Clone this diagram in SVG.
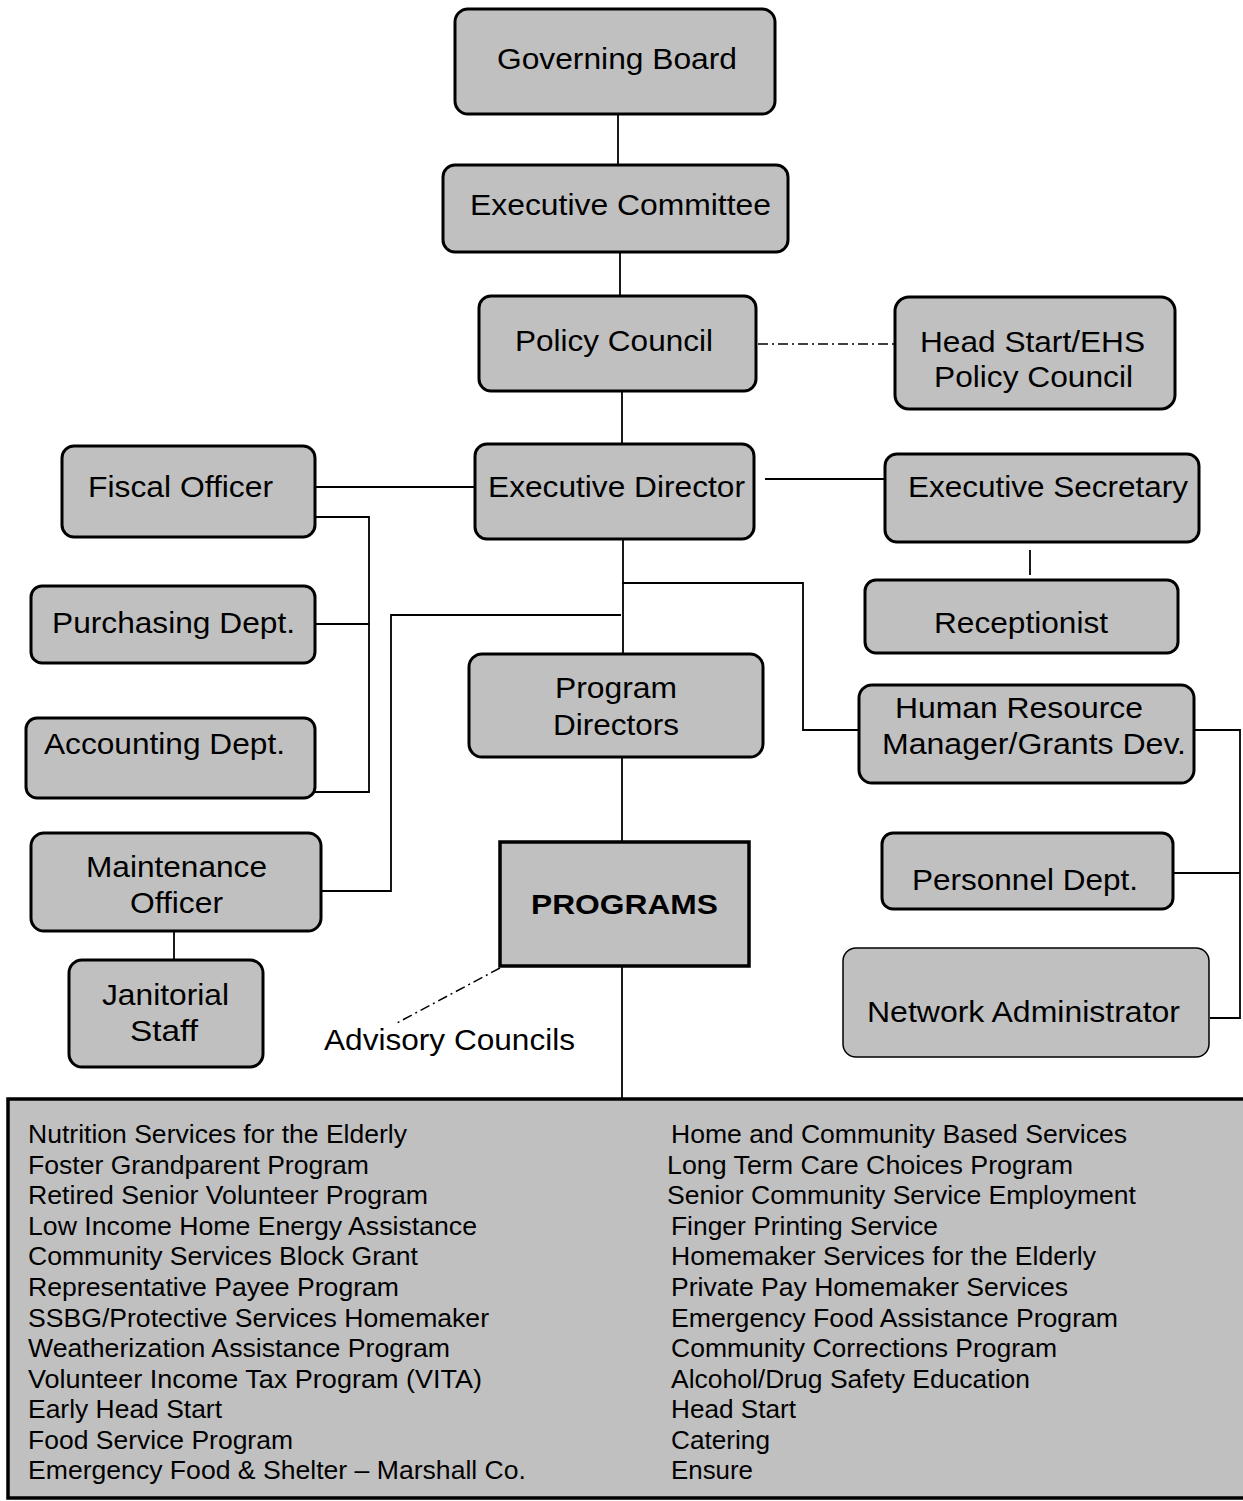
<svg xmlns="http://www.w3.org/2000/svg" width="1243" height="1501" viewBox="0 0 1243 1501">
<style>
.box{fill:#c0c0c0;stroke:#000;stroke-width:3}
.thin{fill:#c0c0c0;stroke:#000;stroke-width:1.5}
.sq{fill:#c0c0c0;stroke:#000;stroke-width:3.5}
.t{font-family:"Liberation Sans",Arial,sans-serif;font-size:30px;fill:#000}
.b{font-weight:bold;font-size:28px}
.l{font-family:"Liberation Sans",Arial,sans-serif;font-size:26px;fill:#000}
.c{fill:none;stroke:#000;stroke-width:1.8}
.dd{fill:none;stroke:#000;stroke-width:1.5;stroke-dasharray:10 4 2 4}
</style>
<rect width="1243" height="1501" fill="#fff"/>
<g id="connectors">
<line class="c" x1="618" y1="114" x2="618" y2="165"/>
<line class="c" x1="620" y1="252" x2="620" y2="296"/>
<line class="c" x1="622" y1="391" x2="622" y2="444"/>
<line class="dd" x1="758" y1="344" x2="894" y2="344"/>
<line class="c" x1="312" y1="487" x2="475" y2="487"/>
<line class="c" x1="765" y1="479" x2="885" y2="479"/>
<polyline class="c" points="313,517 369,517 369,792 313,792"/>
<line class="c" x1="315" y1="624" x2="369" y2="624"/>
<line class="c" x1="1030" y1="550" x2="1030" y2="575"/>
<line class="c" x1="623" y1="532" x2="623" y2="654"/>
<polyline class="c" points="622,583 803,583 803,730 859,730"/>
<polyline class="c" points="621,615 391,615 391,891 322,891"/>
<line class="c" x1="622" y1="757" x2="622" y2="841"/>
<line class="c" x1="174" y1="931" x2="174" y2="959"/>
<polyline class="c" points="1194,730 1240,730 1240,1018 1210,1018"/>
<line class="c" x1="1173" y1="873" x2="1240" y2="873"/>
<line class="c" x1="622" y1="967" x2="622" y2="1098"/>
<line class="dd" x1="500" y1="968" x2="395" y2="1024"/>
</g>
<g id="governing-board">
<rect class="box" x="455" y="9" width="320" height="105" rx="13"/>
<text class="t" x="497" y="69" textLength="240" lengthAdjust="spacingAndGlyphs">Governing Board</text>
</g>
<g id="executive-committee">
<rect class="box" x="443" y="165" width="345" height="87" rx="12"/>
<text class="t" x="470" y="215" textLength="301" lengthAdjust="spacingAndGlyphs">Executive Committee</text>
</g>
<g id="policy-council">
<rect class="box" x="479" y="296" width="277" height="95" rx="12"/>
<text class="t" x="515" y="351" textLength="198" lengthAdjust="spacingAndGlyphs">Policy Council</text>
</g>
<g id="head-start-policy-council">
<rect class="box" x="895" y="297" width="280" height="112" rx="14"/>
<text class="t" x="920" y="352" textLength="225" lengthAdjust="spacingAndGlyphs">Head Start/EHS</text>
<text class="t" x="934" y="387" textLength="199" lengthAdjust="spacingAndGlyphs">Policy Council</text>
</g>
<g id="executive-director">
<rect class="box" x="475" y="444" width="279" height="95" rx="12"/>
<text class="t" x="488" y="497" textLength="257" lengthAdjust="spacingAndGlyphs">Executive Director</text>
</g>
<g id="fiscal-officer">
<rect class="box" x="62" y="446" width="253" height="91" rx="12"/>
<text class="t" x="88" y="497" textLength="185" lengthAdjust="spacingAndGlyphs">Fiscal Officer</text>
</g>
<g id="executive-secretary">
<rect class="box" x="885" y="454" width="314" height="88" rx="12"/>
<text class="t" x="908" y="497" textLength="280" lengthAdjust="spacingAndGlyphs">Executive Secretary</text>
</g>
<g id="purchasing-dept">
<rect class="box" x="31" y="586" width="284" height="77" rx="11"/>
<text class="t" x="52" y="633" textLength="243" lengthAdjust="spacingAndGlyphs">Purchasing Dept.</text>
</g>
<g id="receptionist">
<rect class="box" x="865" y="580" width="313" height="73" rx="11"/>
<text class="t" x="934" y="633" textLength="174" lengthAdjust="spacingAndGlyphs">Receptionist</text>
</g>
<g id="program-directors">
<rect class="box" x="469" y="654" width="294" height="103" rx="13"/>
<text class="t" x="555" y="698" textLength="122" lengthAdjust="spacingAndGlyphs">Program</text>
<text class="t" x="553" y="735" textLength="126" lengthAdjust="spacingAndGlyphs">Directors</text>
</g>
<g id="human-resource-manager">
<rect class="box" x="859" y="685" width="335" height="98" rx="13"/>
<text class="t" x="895" y="718" textLength="248" lengthAdjust="spacingAndGlyphs">Human Resource</text>
<text class="t" x="882" y="754" textLength="304" lengthAdjust="spacingAndGlyphs">Manager/Grants Dev.</text>
</g>
<g id="accounting-dept">
<rect class="box" x="26" y="718" width="289" height="80" rx="11"/>
<text class="t" x="44" y="754" textLength="241" lengthAdjust="spacingAndGlyphs">Accounting Dept.</text>
</g>
<g id="maintenance-officer">
<rect class="box" x="31" y="833" width="290" height="98" rx="13"/>
<text class="t" x="86" y="877" textLength="181" lengthAdjust="spacingAndGlyphs">Maintenance</text>
<text class="t" x="130" y="913" textLength="93" lengthAdjust="spacingAndGlyphs">Officer</text>
</g>
<g id="programs">
<rect class="sq" x="500" y="842" width="249" height="124"/>
<text class="t b" x="531" y="914" textLength="187" lengthAdjust="spacingAndGlyphs">PROGRAMS</text>
</g>
<g id="personnel-dept">
<rect class="box" x="882" y="833" width="291" height="76" rx="11"/>
<text class="t" x="912" y="890" textLength="226" lengthAdjust="spacingAndGlyphs">Personnel Dept.</text>
</g>
<g id="janitorial-staff">
<rect class="box" x="69" y="960" width="194" height="107" rx="13"/>
<text class="t" x="102" y="1005" textLength="127" lengthAdjust="spacingAndGlyphs">Janitorial</text>
<text class="t" x="130" y="1041" textLength="68" lengthAdjust="spacingAndGlyphs">Staff</text>
</g>
<g id="network-administrator">
<rect class="thin" x="843" y="948" width="366" height="109" rx="13"/>
<text class="t" x="867" y="1022" textLength="313" lengthAdjust="spacingAndGlyphs">Network Administrator</text>
</g>
<g id="advisory-councils">
<text class="t" x="324" y="1050" textLength="251" lengthAdjust="spacingAndGlyphs">Advisory Councils</text>
</g>
<g id="program-list">
<rect class="sq" x="8" y="1099" width="1250" height="399"/>
<text class="l" x="28" y="1143" textLength="379" lengthAdjust="spacingAndGlyphs">Nutrition Services for the Elderly</text>
<text class="l" x="28" y="1173.5" textLength="341" lengthAdjust="spacingAndGlyphs">Foster Grandparent Program</text>
<text class="l" x="28" y="1204" textLength="400" lengthAdjust="spacingAndGlyphs">Retired Senior Volunteer Program</text>
<text class="l" x="28" y="1234.5" textLength="449" lengthAdjust="spacingAndGlyphs">Low Income Home Energy Assistance</text>
<text class="l" x="28" y="1265" textLength="390" lengthAdjust="spacingAndGlyphs">Community Services Block Grant</text>
<text class="l" x="28" y="1296" textLength="371" lengthAdjust="spacingAndGlyphs">Representative Payee Program</text>
<text class="l" x="28" y="1326.5" textLength="461" lengthAdjust="spacingAndGlyphs">SSBG/Protective Services Homemaker</text>
<text class="l" x="28" y="1357" textLength="422" lengthAdjust="spacingAndGlyphs">Weatherization Assistance Program</text>
<text class="l" x="28" y="1387.5" textLength="454" lengthAdjust="spacingAndGlyphs">Volunteer Income Tax Program (VITA)</text>
<text class="l" x="28" y="1418" textLength="194" lengthAdjust="spacingAndGlyphs">Early Head Start</text>
<text class="l" x="28" y="1449" textLength="265" lengthAdjust="spacingAndGlyphs">Food Service Program</text>
<text class="l" x="28" y="1479" textLength="498" lengthAdjust="spacingAndGlyphs">Emergency Food &amp; Shelter – Marshall Co.</text>
<text class="l" x="671" y="1143" textLength="456" lengthAdjust="spacingAndGlyphs">Home and Community Based Services</text>
<text class="l" x="667" y="1173.5" textLength="406" lengthAdjust="spacingAndGlyphs">Long Term Care Choices Program</text>
<text class="l" x="667" y="1204" textLength="469" lengthAdjust="spacingAndGlyphs">Senior Community Service Employment</text>
<text class="l" x="671" y="1234.5" textLength="267" lengthAdjust="spacingAndGlyphs">Finger Printing Service</text>
<text class="l" x="671" y="1265" textLength="425" lengthAdjust="spacingAndGlyphs">Homemaker Services for the Elderly</text>
<text class="l" x="671" y="1296" textLength="397" lengthAdjust="spacingAndGlyphs">Private Pay Homemaker Services</text>
<text class="l" x="671" y="1326.5" textLength="447" lengthAdjust="spacingAndGlyphs">Emergency Food Assistance Program</text>
<text class="l" x="671" y="1357" textLength="386" lengthAdjust="spacingAndGlyphs">Community Corrections Program</text>
<text class="l" x="671" y="1387.5" textLength="359" lengthAdjust="spacingAndGlyphs">Alcohol/Drug Safety Education</text>
<text class="l" x="671" y="1418" textLength="125" lengthAdjust="spacingAndGlyphs">Head Start</text>
<text class="l" x="671" y="1449" textLength="99" lengthAdjust="spacingAndGlyphs">Catering</text>
<text class="l" x="671" y="1479" textLength="82" lengthAdjust="spacingAndGlyphs">Ensure</text>
</g>
</svg>
